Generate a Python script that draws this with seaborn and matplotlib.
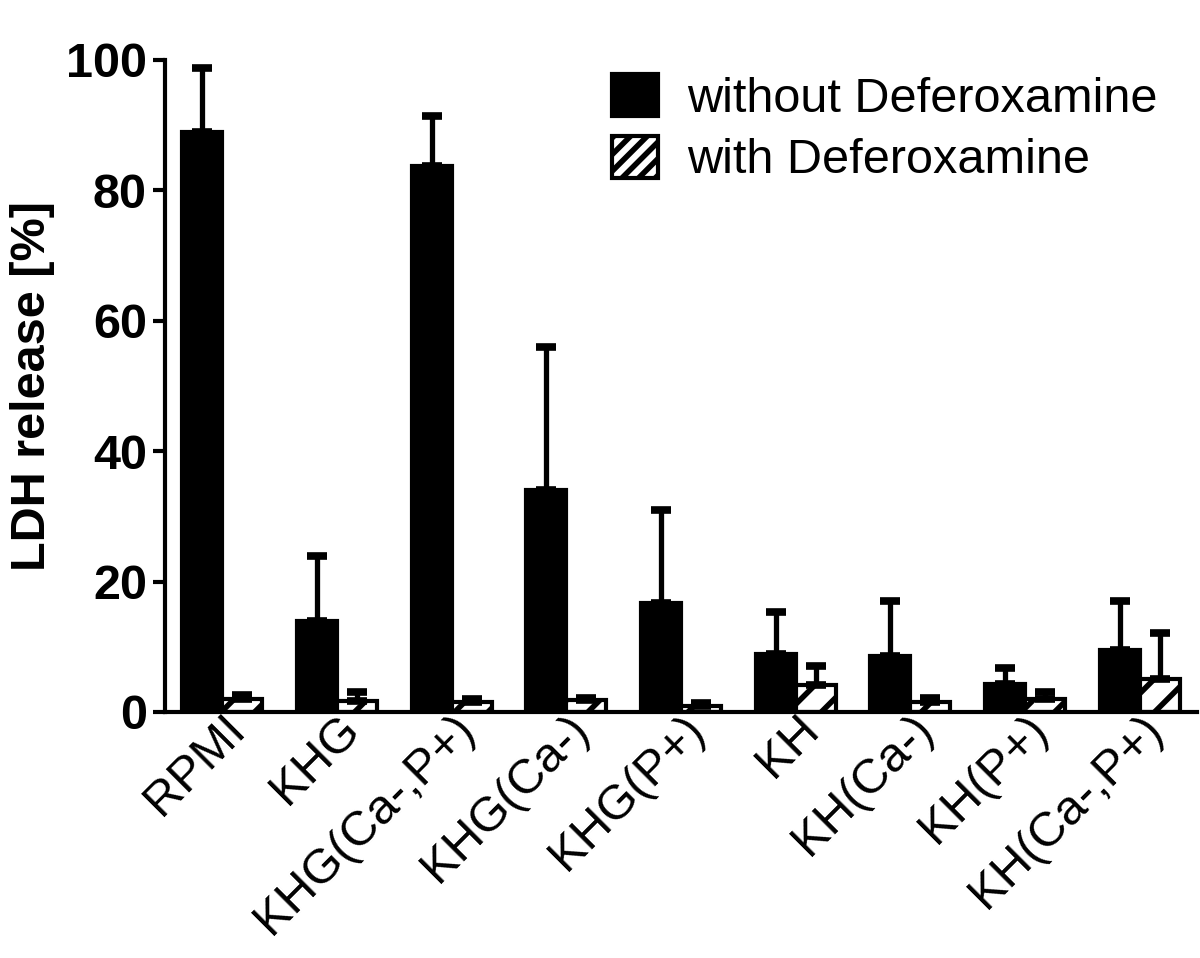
import numpy as np
import pandas as pd
import matplotlib
matplotlib.use("Agg")
import matplotlib.pyplot as plt
from matplotlib.patches import Patch
import seaborn as sns

categories = ["RPMI", "KHG", "KHG(Ca-,P+)", "KHG(Ca-)", "KHG(P+)",
              "KH", "KH(Ca-)", "KH(P+)", "KH(Ca-,P+)"]
without_vals = [89.0, 14.0, 83.7, 34.0, 16.7, 8.9, 8.6, 4.3, 9.5]
without_err = [9.8, 10.0, 7.7, 22.0, 14.3, 6.4, 8.4, 2.5, 7.5]
with_vals = [2.0, 1.7, 1.6, 1.8, 0.9, 4.2, 1.5, 2.0, 5.1]
with_err = [0.6, 1.3, 0.4, 0.4, 0.5, 2.9, 0.6, 1.0, 7.0]
series = ["without Deferoxamine", "with Deferoxamine"]
yticks = [0, 20, 40, 60, 80, 100]

sns.set_style("ticks")
plt.rcParams["font.family"] = ["Liberation Sans", "DejaVu Sans"]
plt.rcParams["hatch.linewidth"] = 4.0
plt.rcParams["text.color"] = "black"
plt.rcParams["axes.labelcolor"] = "black"
plt.rcParams["xtick.color"] = "black"
plt.rcParams["ytick.color"] = "black"
plt.rcParams["axes.edgecolor"] = "black"

df = pd.DataFrame({
    "cat": categories * 2,
    "val": without_vals + with_vals,
    "grp": [series[0]] * len(categories) + [series[1]] * len(categories),
})

fig = plt.figure(figsize=(12, 9.58), dpi=100)
ax = fig.add_axes([0.1375, 0.2568, 0.86, 0.6806])

sns.barplot(data=df, x="cat", y="val", hue="grp", hue_order=series,
            palette=["black", "white"], edgecolor="black", linewidth=3,
            width=0.7, errorbar=None, legend=False, ax=ax, zorder=2)

errs = [without_err, with_err]
vals = [without_vals, with_vals]
bar_containers = list(ax.containers)
for ci, cont in enumerate(bar_containers):
    bars = list(cont)
    xs = [b.get_x() + b.get_width() / 2 for b in bars]
    if ci == 1:
        for b in bars:
            b.set_hatch("/")
            b.set_edgecolor("black")
    eb = ax.errorbar(xs, vals[ci], yerr=[np.zeros(len(xs)), errs[ci]],
                     fmt="none", ecolor="black", elinewidth=3.8,
                     capsize=7.5, capthick=5.5, zorder=3)
    for c in eb[1]:
        c.set_solid_capstyle("round")

ax.set_xlim(-0.5, len(categories) - 0.5)
ax.set_ylim(0, 100)
ax.set_yticks(yticks)
ax.set_yticklabels([str(t) for t in yticks], fontsize=35, fontweight="bold")
ax.set_xticks(range(len(categories)))
ax.set_xticklabels(categories, rotation=45, ha="right",
                   rotation_mode="anchor", fontsize=35)
ax.tick_params(axis="x", length=0, pad=-4)
ax.tick_params(axis="y", length=9, width=3, pad=4)
ax.set_xlabel("")
ax.set_ylabel("LDH release [%]", fontsize=35, fontweight="bold", labelpad=8)
for s in ["top", "right"]:
    ax.spines[s].set_visible(False)
for s in ["left", "bottom"]:
    ax.spines[s].set_linewidth(3)

handles = [Patch(facecolor="black", edgecolor="black", linewidth=3),
           Patch(facecolor="white", edgecolor="black", linewidth=3, hatch="//")]
ax.legend(handles, series, loc="upper left", bbox_to_anchor=(0.433, 0.978),
          frameon=False, fontsize=35, borderaxespad=0, borderpad=0,
          handlelength=0.95, handleheight=0.95, handletextpad=0.6,
          labelspacing=0.28)

fig.savefig("out.png", dpi=100)
